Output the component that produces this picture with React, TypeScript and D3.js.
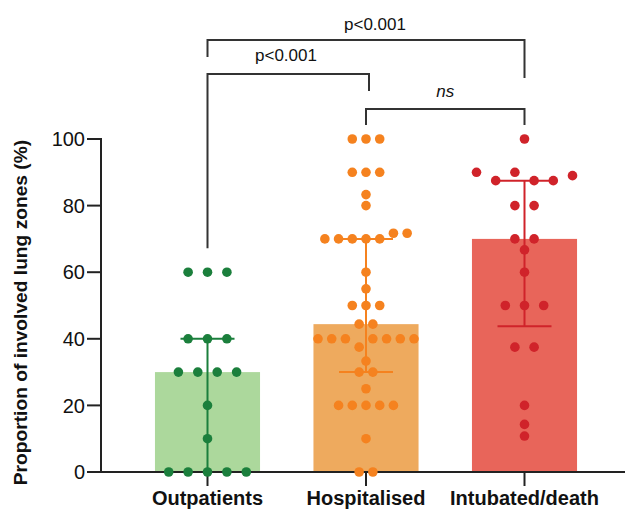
import React from "react";
import * as d3 from "d3";

const categories = ["Outpatients", "Hospitalised", "Intubated/death"];
const outpatients = [60, 60, 60, 40, 40, 40, 30, 30, 30, 30, 20, 10, 0, 0, 0, 0, 0];
const hospitalised = [
  100, 100, 100, 90, 90, 90, 83.3, 80, 70, 70, 70, 70, 70, 71.7, 71.7, 60, 55, 50, 50, 50,
  44.4, 44.4, 40, 40, 40, 37.5, 40, 40, 40, 40, 33.3, 30, 30, 25, 20, 20, 20, 20, 20, 10, 0, 0,
];
const intubated = [
  100, 90, 87.5, 90, 87.5, 87.5, 89, 80, 80, 70, 70, 66.7, 60, 50, 50, 50, 37.5, 37.5, 20, 14.3, 10.8,
];
const medians = [30, 44.4, 70];
const q1s = [0, 30, 43.75];
const q3s = [40, 70, 87.5];
const yTicks = [0, 20, 40, 60, 80, 100];

const groups = [outpatients, hospitalised, intubated];
const barColors = ["#acd89c", "#eeaa5e", "#e8655a"];
const dotColors = ["#1b7f3c", "#f5821f", "#d0232a"];

const W = 628;
const H = 511;

export default function App() {
  const y = d3.scaleLinear().domain([0, 100]).range([472, 139]);
  const x = d3
    .scaleBand<string>()
    .domain(categories)
    .range([128.25, 603.75])
    .paddingInner(0.337)
    .paddingOuter(0.1685);
  const cx = (c: string) => (x(c) as number) + x.bandwidth() / 2;

  const axisX = 101;
  const rowThreshold = 9.5;

  // beeswarm-like rows
  const dots: { cx: number; cy: number; color: string; key: string }[] = [];
  groups.forEach((vals, gi) => {
    const rows: number[][] = [];
    vals.forEach((v) => {
      const last = rows[rows.length - 1];
      if (last && Math.abs(y(last[0]) - y(v)) < rowThreshold) last.push(v);
      else rows.push([v]);
    });
    const maxRow = d3.max(rows, (r) => r.length) as number;
    const spacing = Math.min(19.4, 96 / Math.max(1, maxRow - 1));
    const c = cx(categories[gi]);
    rows.forEach((r, ri) => {
      r.forEach((v, i) => {
        dots.push({
          cx: c + (i - (r.length - 1) / 2) * spacing,
          cy: y(v),
          color: dotColors[gi],
          key: `${gi}-${ri}-${i}`,
        });
      });
    });
  });

  const c0 = cx(categories[0]);
  const c1 = cx(categories[1]);
  const c2 = cx(categories[2]);
  const capHalf = 27;
  const lineCol = "#333";

  return (
    <svg width={W} height={H} style={{ position: "absolute", left: 0, top: 0 }} fontFamily="'Liberation Sans', Arial, sans-serif">
      {/* bars */}
      {categories.map((c, i) => (
        <rect key={c} x={x(c)} y={y(medians[i])} width={x.bandwidth()} height={y(0) - y(medians[i])} fill={barColors[i]} />
      ))}
      {/* error bars */}
      {categories.map((c, i) => (
        <g key={c} stroke={dotColors[i]} strokeWidth={2}>
          <line x1={cx(c)} x2={cx(c)} y1={y(q1s[i])} y2={y(q3s[i])} />
          <line x1={cx(c) - capHalf} x2={cx(c) + capHalf} y1={y(q1s[i])} y2={y(q1s[i])} />
          <line x1={cx(c) - capHalf} x2={cx(c) + capHalf} y1={y(q3s[i])} y2={y(q3s[i])} />
        </g>
      ))}
      {/* axes */}
      <g stroke="#222" strokeWidth={2} fill="none">
        <line x1={axisX} x2={axisX} y1={y(100) - 1} y2={y(0)} />
        <line x1={axisX - 1} x2={625} y1={y(0)} y2={y(0)} />
        {yTicks.map((t) => (
          <line key={t} x1={axisX - 14} x2={axisX} y1={y(t)} y2={y(t)} />
        ))}
        {categories.map((c) => (
          <line key={c} x1={cx(c)} x2={cx(c)} y1={y(0)} y2={y(0) + 14} />
        ))}
      </g>
      {/* dots */}
      {dots.map((d) => (
        <circle key={d.key} cx={d.cx} cy={d.cy} r={4.8} fill={d.color} />
      ))}
      {/* tick labels */}
      {yTicks.map((t) => (
        <text key={t} x={axisX - 16} y={y(t)} dy="0.36em" textAnchor="end" fontSize={20} fill="#111">
          {t}
        </text>
      ))}
      {categories.map((c) => (
        <text key={c} x={cx(c)} y={505} textAnchor="middle" fontSize={20} fontWeight="bold" fill="#111">
          {c}
        </text>
      ))}
      <text
        transform={`translate(27,${(y(0) + y(100)) / 2 + 7}) rotate(-90)`}
        textAnchor="middle"
        fontSize={19.2}
        fontWeight="bold"
        fill="#111"
      >
        Proportion of involved lung zones (%)
      </text>
      {/* significance brackets */}
      <g stroke={lineCol} strokeWidth={2} fill="none">
        <path d={`M${c0},57 V40 H${c2} V78`} />
        <path d={`M${c0},${y(60) - 24} V74 H${c1 + 3} V91`} />
        <path d={`M${c1},125 V109 H${c2} V125`} />
      </g>
      <text x={375} y={30} textAnchor="middle" fontSize={17} fill="#111">p&lt;0.001</text>
      <text x={286} y={61} textAnchor="middle" fontSize={17} fill="#111">p&lt;0.001</text>
      <text x={(c1 + c2) / 2} y={97} textAnchor="middle" fontSize={17} fontStyle="italic" fill="#111">ns</text>
    </svg>
  );
}
